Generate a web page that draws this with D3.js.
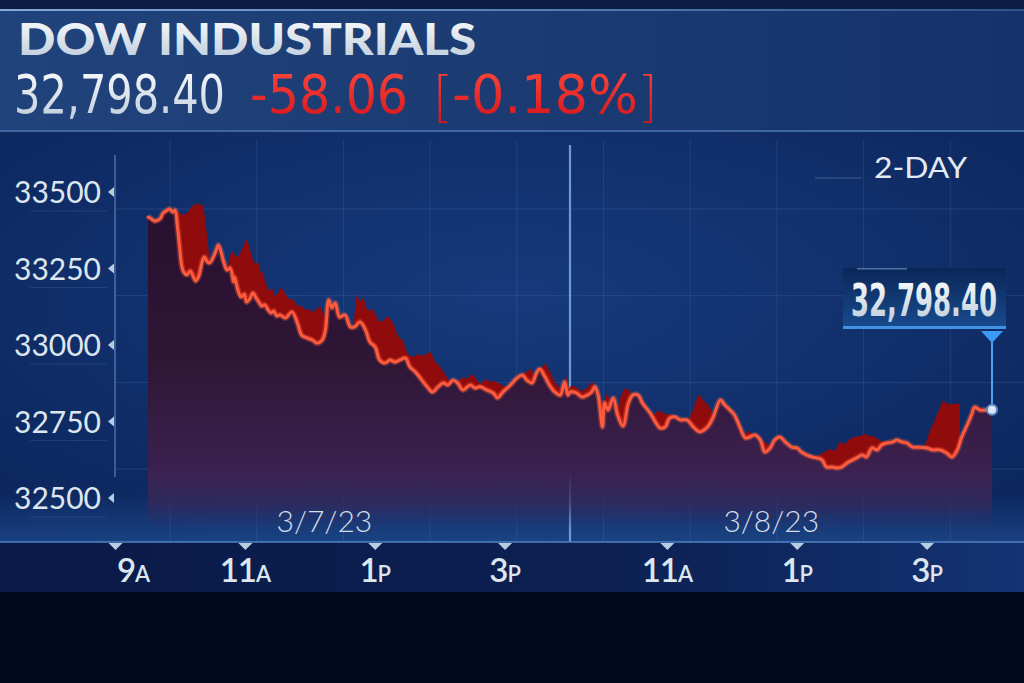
<!DOCTYPE html>
<html>
<head>
<meta charset="utf-8">
<script src="https://cdn.jsdelivr.net/npm/d3@7"></script>
<style>
  html, body { margin: 0; padding: 0; background: #020a20; }
  svg { display: block; }
</style>
</head>
<body>
<div id="chart"></div>
<script>
// Chart data (minutes after 9:30 open, index level)
const day1Minutes = [0,2,6,11,14,18,20,23,25,27,29,31,33,36,39,42,44,47,50,52,55,57,60,63,65,67,70,73,76,79,80,83,86,89,91,94,97,100,103,105,108,111,114,116,119,122,127,133,138,142,147,152,156,161,164,167,170,173,177,182,187,191,196,201,205,210,214,219,224,228,233,238,242,247,251,258,263,268,273,277,282,286,291,298,302,307,313,319,323,328,335,341,346,350,355,359,362,367,371,376,381,385,388,390];
const day1Values = [33428,33425,33415,33422,33441,33451,33454,33444,33451,33402,33337,33271,33248,33239,33252,33232,33219,33235,33281,33297,33281,33278,33294,33320,33337,33320,33281,33255,33261,33216,33232,33190,33167,33176,33150,33160,33180,33163,33147,33137,33141,33124,33114,33121,33105,33108,33098,33118,33082,33042,33033,33026,33016,33026,33059,33157,33131,33147,33101,33108,33069,33069,33085,33059,33020,33003,32961,32951,32961,32954,32961,32967,32938,32922,32905,32873,32856,32873,32886,32879,32895,32886,32863,32879,32869,32873,32863,32853,32837,32856,32879,32902,32912,32895,32886,32918,32931,32905,32879,32856,32846,32889,32846,32856];
const day2Minutes = [0,3,6,11,16,20,23,26,30,32,35,40,44,49,54,58,63,67,74,79,83,88,92,97,102,108,114,120,127,132,139,143,148,152,157,162,166,171,176,180,185,189,194,199,205,210,214,219,224,228,233,237,242,247,251,256,261,265,270,274,279,284,288,293,298,302,307,311,317,323,330,335,342,348,353,358,362,367,371,374,379,383,390];
const day2Values = [32856,32856,32853,32840,32846,32856,32873,32846,32742,32820,32797,32837,32781,32745,32820,32846,32846,32820,32788,32758,32739,32742,32771,32775,32765,32765,32742,32726,32742,32771,32830,32814,32797,32781,32742,32706,32709,32716,32699,32660,32673,32699,32709,32693,32676,32673,32660,32650,32644,32641,32634,32611,32611,32608,32611,32624,32634,32641,32650,32644,32673,32667,32683,32690,32693,32699,32693,32690,32676,32676,32673,32667,32667,32657,32644,32667,32709,32748,32781,32807,32797,32797,32798.4];

const sessionLength = 390;
const yTicks = [32500, 32750, 33000, 33250, 33500];
const xTickMinutes = [-30, 90, 210, 330, 480, 600, 720];
const xTickNums = ["9", "11", "1", "3", "11", "1", "3"];
const xTickSuffix = ["A", "A", "P", "P", "A", "P", "P"];
const dateLabels = ["3/7/23", "3/8/23"];
const dateMinutes = [163, 576];

const title = "DOW INDUSTRIALS";
const lastPrice = "32,798.40";
const change = "-58.06";
const changePct = "-0.18%";
const rangeLabel = "2-DAY";

// Combine both sessions into one series
const series = day1Minutes.map((m, i) => ({ m: m, v: day1Values[i] }))
  .concat(day2Minutes.slice(1).map((m, i) => ({ m: m + sessionLength, v: day2Values[i + 1] })));

const width = 1024;
const height = 683;

const x = d3.scaleLinear().domain([0, sessionLength * 2]).range([148, 992]);
const y = d3.scaleLinear().domain([32500, 33500]).range([501, 195]);

const svg = d3.select("#chart")
  .append("svg")
    .attr("width", width)
    .attr("height", height);

const defs = svg.append("defs");

const addLinear = (id, x1, y1, x2, y2, stops, units) => {
  const g = defs.append("linearGradient")
    .attr("id", id)
    .attr("x1", x1).attr("y1", y1).attr("x2", x2).attr("y2", y2);
  if (units) g.attr("gradientUnits", units);
  stops.forEach(s => g.append("stop")
    .attr("offset", s[0])
    .attr("stop-color", s[1])
    .attr("stop-opacity", s[2] === undefined ? 1 : s[2]));
};

addLinear("headerBg", "0", "0", "1", "0", [[0, "#21437b"], [0.5, "#1b3b72"], [1, "#15336a"]]);
addLinear("headerLine", "0", "0", "1", "0", [[0, "#86aad6"], [0.6, "#5077ae"], [1, "#2f548c"]]);
addLinear("axisBand", "0", "0", "1", "0", [[0, "#0a1a48"], [0.6, "#0c2052"], [1, "#143373"]]);
addLinear("bottomGlow", "0", "0", "0", "1", [[0, "#2a64ad", 0], [1, "#2a64ad", 0.45]]);
addLinear("whiteText", "0", "0", "0", "1", [[0, "#ffffff"], [1, "#b9c9d9"]]);
addLinear("redText", "0", "0", "0", "1", [[0, "#ff4a3c"], [1, "#d3121c"]]);
addLinear("calloutBg", "0", "0", "0", "1", [[0, "#0b2657"], [1, "#184c90"]]);
addLinear("areaFill", 0, 200, 0, 530,
  [[0, "#2a1030"], [0.5, "#301636"], [0.82, "#3c2150"], [0.92, "#3a2858", 0.7], [1, "#32306a", 0]], "userSpaceOnUse");

const panelGrad = defs.append("radialGradient")
  .attr("id", "panelBg")
  .attr("cx", "0.5").attr("cy", "0.4").attr("r", "0.75");
panelGrad.append("stop").attr("offset", 0).attr("stop-color", "#163a7c");
panelGrad.append("stop").attr("offset", 1).attr("stop-color", "#0c255b");

// Background pieces
svg.append("rect").attr("width", width).attr("height", height).attr("fill", "#020a20");
svg.append("rect").attr("width", width).attr("height", 10).attr("fill", "#0b1d45");
svg.append("rect").attr("y", 10).attr("width", width).attr("height", 121).attr("fill", "url(#headerBg)");
svg.append("rect").attr("y", 9).attr("width", width).attr("height", 2).attr("fill", "url(#headerLine)");
svg.append("rect").attr("y", 130).attr("width", width).attr("height", 2).attr("fill", "#3e68a3");
svg.append("rect").attr("y", 132).attr("width", width).attr("height", 410).attr("fill", "url(#panelBg)");
svg.append("rect").attr("y", 492).attr("width", width).attr("height", 50).attr("fill", "url(#bottomGlow)");
svg.append("rect").attr("y", 542).attr("width", width).attr("height", 50).attr("fill", "url(#axisBand)");

// Decorative grid
const gridStep = 86.7;
svg.append("g")
  .selectAll("line")
  .data(d3.range(4).map(i => 209 + i * gridStep))
  .enter().append("line")
    .attr("x1", 115).attr("x2", width)
    .attr("y1", d => d).attr("y2", d => d)
    .attr("stroke", "#6e98d4").attr("stroke-opacity", 0.2);
svg.append("g")
  .selectAll("line")
  .data(d3.range(10).map(i => 170 + i * gridStep))
  .enter().append("line")
    .attr("x1", d => d).attr("x2", d => d)
    .attr("y1", 140).attr("y2", 542)
    .attr("stroke", "#6e98d4").attr("stroke-opacity", 0.16);

// Left axis line
svg.append("line")
  .attr("x1", 115).attr("x2", 115).attr("y1", 155).attr("y2", 477)
  .attr("stroke", "#7fa6d8").attr("stroke-opacity", 0.55).attr("stroke-width", 1.5);

// Session divider
svg.append("line")
  .attr("x1", x(sessionLength)).attr("x2", x(sessionLength))
  .attr("y1", 145).attr("y2", 542)
  .attr("stroke", "#6c9bd2").attr("stroke-width", 2.2);

// Red extruded back face of the line (3D look)
const shiftX = px => Math.max(-32, Math.min(28, 0.15 * (575 - px)));
const frontPts = series.map(d => [x(d.m), y(d.v)]);
const backPts = frontPts.map(p => [p[0] + shiftX(p[0]), p[1] - 6]);

const first = frontPts[0];
const last = frontPts[frontPts.length - 1];
defs.append("clipPath").attr("id", "aboveLine")
  .append("path")
    .attr("d", "M" + first[0] + ",0L" + frontPts.map(p => p.join(",")).join("L") +
      "L" + last[0] + ",0Z");

svg.append("path")
  .attr("clip-path", "url(#aboveLine)")
  .attr("d", "M" + backPts.map(p => p.join(",")).join("L") +
    "L" + backPts[backPts.length - 1][0] + ",540L" + backPts[0][0] + ",540Z")
  .attr("fill", "#900b0c");

// Area under the line
const area = d3.area()
  .x(d => x(d.m))
  .y0(530)
  .y1(d => y(d.v));

svg.append("path")
  .datum(series)
  .attr("d", area)
  .attr("fill", "url(#areaFill)");

// Price line
const line = d3.line()
  .x(d => x(d.m))
  .y(d => y(d.v))
  .curve(d3.curveCatmullRom.alpha(0.5));

svg.append("path")
  .datum(series)
  .attr("d", line)
  .attr("fill", "none")
  .attr("stroke", "#ff6a45")
  .attr("stroke-opacity", 0.3)
  .attr("stroke-width", 6)
  .attr("stroke-linejoin", "round");

svg.append("path")
  .datum(series)
  .attr("d", line)
  .attr("fill", "none")
  .attr("stroke", "#ff5a3c")
  .attr("stroke-width", 3)
  .attr("stroke-linejoin", "round")
  .attr("stroke-linecap", "round");

// Y axis labels
const yAxis = svg.append("g").attr("class", "y-axis");
const yTick = yAxis.selectAll("g")
  .data(yTicks)
  .enter().append("g")
    .attr("transform", d => "translate(0," + (y(d) - 3) + ")");
yTick.append("text")
  .attr("x", 101).attr("y", 11)
  .attr("text-anchor", "end")
  .attr("font-family", "Lato, 'Open Sans', sans-serif")
  .attr("font-size", 30)
  .attr("fill", "#dde6ef")
  .text(d => d);
yTick.append("path")
  .attr("d", "M108,0L114,-5L114,5Z")
  .attr("fill", "#b9cde2");
yTick.append("line")
  .attr("x1", 30).attr("x2", 107).attr("y1", 19).attr("y2", 19)
  .attr("stroke", "#8fb0d8").attr("stroke-opacity", 0.15);

// X axis
svg.append("line")
  .attr("x1", 0).attr("x2", width).attr("y1", 542).attr("y2", 542)
  .attr("stroke", "#4f82c4").attr("stroke-width", 1.5);

const xTick = svg.append("g").attr("class", "x-axis")
  .selectAll("g")
  .data(xTickMinutes)
  .enter().append("g")
    .attr("transform", d => "translate(" + x(d) + ",0)");
xTick.append("path")
  .attr("d", "M-7,543L7,543L0,550Z")
  .attr("fill", "#b9cde2");
const xLabel = xTick.append("text")
  .attr("x", (d, i) => i === 0 ? 18 : 0)
  .attr("y", 582)
  .attr("text-anchor", "middle")
  .attr("font-family", "Lato, 'Open Sans', sans-serif")
  .attr("fill", "#dce6ef");
xLabel.append("tspan")
  .attr("font-size", 33)
  .attr("font-weight", 600)
  .attr("letter-spacing", -1)
  .text((d, i) => xTickNums[i]);
xLabel.append("tspan")
  .attr("font-size", 22)
  .attr("font-weight", 600)
  .text((d, i) => xTickSuffix[i]);

svg.append("g")
  .selectAll("text")
  .data(dateLabels)
  .enter().append("text")
    .attr("x", (d, i) => x(dateMinutes[i]))
    .attr("y", 532)
    .attr("text-anchor", "middle")
    .attr("font-family", "Lato, 'Open Sans', sans-serif")
    .attr("font-weight", 300)
    .attr("font-size", 30)
    .attr("fill", "#d2dde8")
    .text(d => d);

// Legend
svg.append("line")
  .attr("x1", 815).attr("x2", 862).attr("y1", 178).attr("y2", 178)
  .attr("stroke", "#8fb0d8").attr("stroke-opacity", 0.4);
svg.append("text")
  .attr("x", 874).attr("y", 178)
  .attr("font-family", "Lato, 'Open Sans', sans-serif")
  .attr("font-size", 29)
  .attr("textLength", 93)
  .attr("lengthAdjust", "spacingAndGlyphs")
  .attr("fill", "#e2eaf2")
  .text(rangeLabel);

// Header
const narrow = "'Liberation Sans Narrow', 'DejaVu Sans Condensed', sans-serif";
svg.append("text")
  .attr("x", 18).attr("y", 55)
  .attr("font-family", "Lato, 'Open Sans', sans-serif")
  .attr("font-weight", 900)
  .attr("font-size", 43)
  .attr("textLength", 458)
  .attr("lengthAdjust", "spacingAndGlyphs")
  .attr("fill", "url(#whiteText)")
  .text(title);
svg.append("text")
  .attr("x", 14).attr("y", 113)
  .attr("font-family", narrow)
  .attr("font-size", 53)
  .attr("textLength", 211)
  .attr("lengthAdjust", "spacingAndGlyphs")
  .attr("fill", "url(#whiteText)")
  .text(lastPrice);
svg.append("text")
  .attr("x", 250).attr("y", 113)
  .attr("font-family", narrow)
  .attr("font-size", 53)
  .attr("textLength", 158)
  .attr("lengthAdjust", "spacingAndGlyphs")
  .attr("fill", "url(#redText)")
  .text(change);
svg.append("text")
  .attr("x", 433).attr("y", 116)
  .attr("font-family", "Lato, sans-serif")
  .attr("font-weight", 300)
  .attr("font-size", 56)
  .attr("fill", "url(#redText)")
  .text("[");
svg.append("text")
  .attr("x", 452).attr("y", 113)
  .attr("font-family", narrow)
  .attr("font-size", 53)
  .attr("textLength", 186)
  .attr("lengthAdjust", "spacingAndGlyphs")
  .attr("fill", "url(#redText)")
  .text(changePct);
svg.append("text")
  .attr("x", 641).attr("y", 116)
  .attr("font-family", "Lato, sans-serif")
  .attr("font-weight", 300)
  .attr("font-size", 56)
  .attr("fill", "url(#redText)")
  .text("]");

// Last price callout
const endX = x(series[series.length - 1].m);
const endY = y(series[series.length - 1].v);
const callout = svg.append("g").attr("class", "callout");
callout.append("rect")
  .attr("x", endX - 149).attr("y", 268)
  .attr("width", 163).attr("height", 61)
  .attr("fill", "url(#calloutBg)");
callout.append("rect")
  .attr("x", endX - 149).attr("y", 326)
  .attr("width", 163).attr("height", 3)
  .attr("fill", "#3f92e6");
callout.append("rect")
  .attr("x", endX - 135).attr("y", 268)
  .attr("width", 50).attr("height", 1.5)
  .attr("fill", "#7aa6dc").attr("opacity", 0.6);
callout.append("text")
  .attr("x", endX - 141).attr("y", 316)
  .attr("font-family", narrow)
  .attr("font-weight", 700)
  .attr("font-size", 45)
  .attr("textLength", 146)
  .attr("lengthAdjust", "spacingAndGlyphs")
  .attr("fill", "url(#whiteText)")
  .text(lastPrice);
callout.append("path")
  .attr("d", "M" + (endX - 11) + ",331L" + (endX + 11) + ",331L" + endX + ",343Z")
  .attr("fill", "#3a9af5");
callout.append("line")
  .attr("x1", endX).attr("x2", endX).attr("y1", 342).attr("y2", endY)
  .attr("stroke", "#4aa2f2").attr("stroke-width", 2);
callout.append("circle")
  .attr("cx", endX).attr("cy", endY).attr("r", 5)
  .attr("fill", "#dde7f2")
  .attr("stroke", "#5a8cc8").attr("stroke-width", 2);
</script>
</body>
</html>
